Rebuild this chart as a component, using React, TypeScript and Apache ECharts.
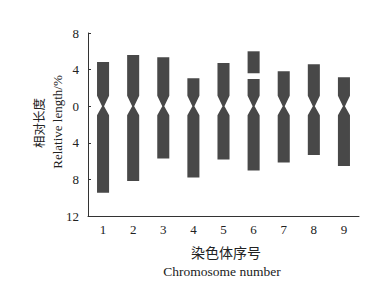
import React, { useEffect, useRef } from "react";
import * as echarts from "echarts";

const categories = ["1", "2", "3", "4", "5", "6", "7", "8", "9"];
const shortArm = [4.83, 5.6, 5.34, 3.05, 4.72, 2.98, 3.82, 4.58, 3.16];
const longArm = [9.45, 8.18, 5.71, 7.78, 5.82, 7.02, 6.14, 5.34, 6.54];
const satelliteLow = [0, 0, 0, 0, 0, 3.6, 0, 0, 0];
const satelliteHigh = [0, 0, 0, 0, 0, 6.0, 0, 0, 0];
const yTicks = [-12, -8, -4, 0, 4, 8];

const SERIF = "Liberation Serif";
const CJK = "Noto Sans CJK SC";

export default function App() {
  const ref = useRef<HTMLDivElement>(null);
  useEffect(() => {
    if (!ref.current) return;
    const chart = echarts.init(ref.current, null, { renderer: "svg" });
    const data = categories.map((_, i) => [i, shortArm[i], longArm[i], satelliteLow[i], satelliteHigh[i]]);
    chart.setOption({
      animation: false,
      grid: { left: 88, right: 20, top: 33, bottom: 65 },
      xAxis: {
        type: "category",
        data: categories,
        boundaryGap: true,
        axisLine: { onZero: false, lineStyle: { color: "#333", width: 1 } },
        axisTick: { inside: true, length: 4, lineStyle: { color: "#333" } },
        axisLabel: { color: "#222", fontFamily: SERIF, fontSize: 13, margin: 7 },
        splitLine: { show: false },
      },
      yAxis: {
        type: "value",
        min: yTicks[0],
        max: yTicks[yTicks.length - 1],
        interval: 4,
        axisLine: { show: true, lineStyle: { color: "#333", width: 1 } },
        axisTick: { show: true, inside: true, length: 3, lineStyle: { color: "#333" } },
        axisLabel: {
          color: "#222",
          fontFamily: SERIF,
          fontSize: 13,
          margin: 9,
          formatter: (v: number) => String(Math.abs(v)),
        },
        splitLine: { show: false },
      },
      graphic: [
        {
          type: "text",
          x: 38,
          y: 123,
          rotation: Math.PI / 2,
          style: {
            text: "相对长度",
            fontFamily: CJK,
            fontSize: 12.5,
            fill: "#222",
            align: "center",
            verticalAlign: "middle",
          },
        },
        {
          type: "text",
          x: 57,
          y: 122,
          rotation: Math.PI / 2,
          style: {
            text: "Relative length/%",
            fontFamily: SERIF,
            fontSize: 13,
            fill: "#222",
            align: "center",
            verticalAlign: "middle",
          },
        },
        {
          type: "text",
          x: 226,
          y: 252,
          style: {
            text: "染色体序号",
            fontFamily: CJK,
            fontSize: 14,
            fill: "#222",
            align: "center",
            verticalAlign: "middle",
          },
        },
        {
          type: "text",
          x: 222,
          y: 271,
          style: {
            text: "Chromosome number",
            fontFamily: SERIF,
            fontSize: 13.5,
            fill: "#222",
            align: "center",
            verticalAlign: "middle",
          },
        },
      ],
      series: [
        {
          type: "custom",
          data,
          encode: { x: 0, y: [1, 2] },
          renderItem: (params: any, api: any) => {
            const idx = api.value(0);
            const p = api.value(1);
            const q = api.value(2);
            const sLo = api.value(3);
            const sHi = api.value(4);
            const top = api.coord([idx, p]);
            const zero = api.coord([idx, 0]);
            const bot = api.coord([idx, -q]);
            const unit = api.size([0, 1])[1];
            const bw = api.size([1, 0])[0] * 0.4;
            const h = bw / 2;
            const w = 1;
            const cx = zero[0];
            const zy = zero[1];
            const tp = 1.15 * unit;
            const tq = 1.0 * unit;
            const children: any[] = [
              {
                type: "polygon",
                shape: {
                  points: [
                    [cx - h, top[1]],
                    [cx + h, top[1]],
                    [cx + h, zy - tp],
                    [cx + w, zy],
                    [cx + h, zy + tq],
                    [cx + h, bot[1]],
                    [cx - h, bot[1]],
                    [cx - h, zy + tq],
                    [cx - w, zy],
                    [cx - h, zy - tp],
                  ],
                },
                style: { fill: "#484848" },
              },
            ];
            if (sHi > sLo) {
              const a = api.coord([idx, sHi]);
              const b = api.coord([idx, sLo]);
              children.push({
                type: "rect",
                shape: { x: cx - h, y: a[1], width: bw, height: b[1] - a[1] },
                style: { fill: "#484848" },
              });
            }
            return { type: "group", children };
          },
        },
      ],
    });
    return () => chart.dispose();
  }, []);
  return <div ref={ref} style={{ width: 379, height: 281, position: "absolute", left: 0, top: 0, background: "#fff" }} />;
}
